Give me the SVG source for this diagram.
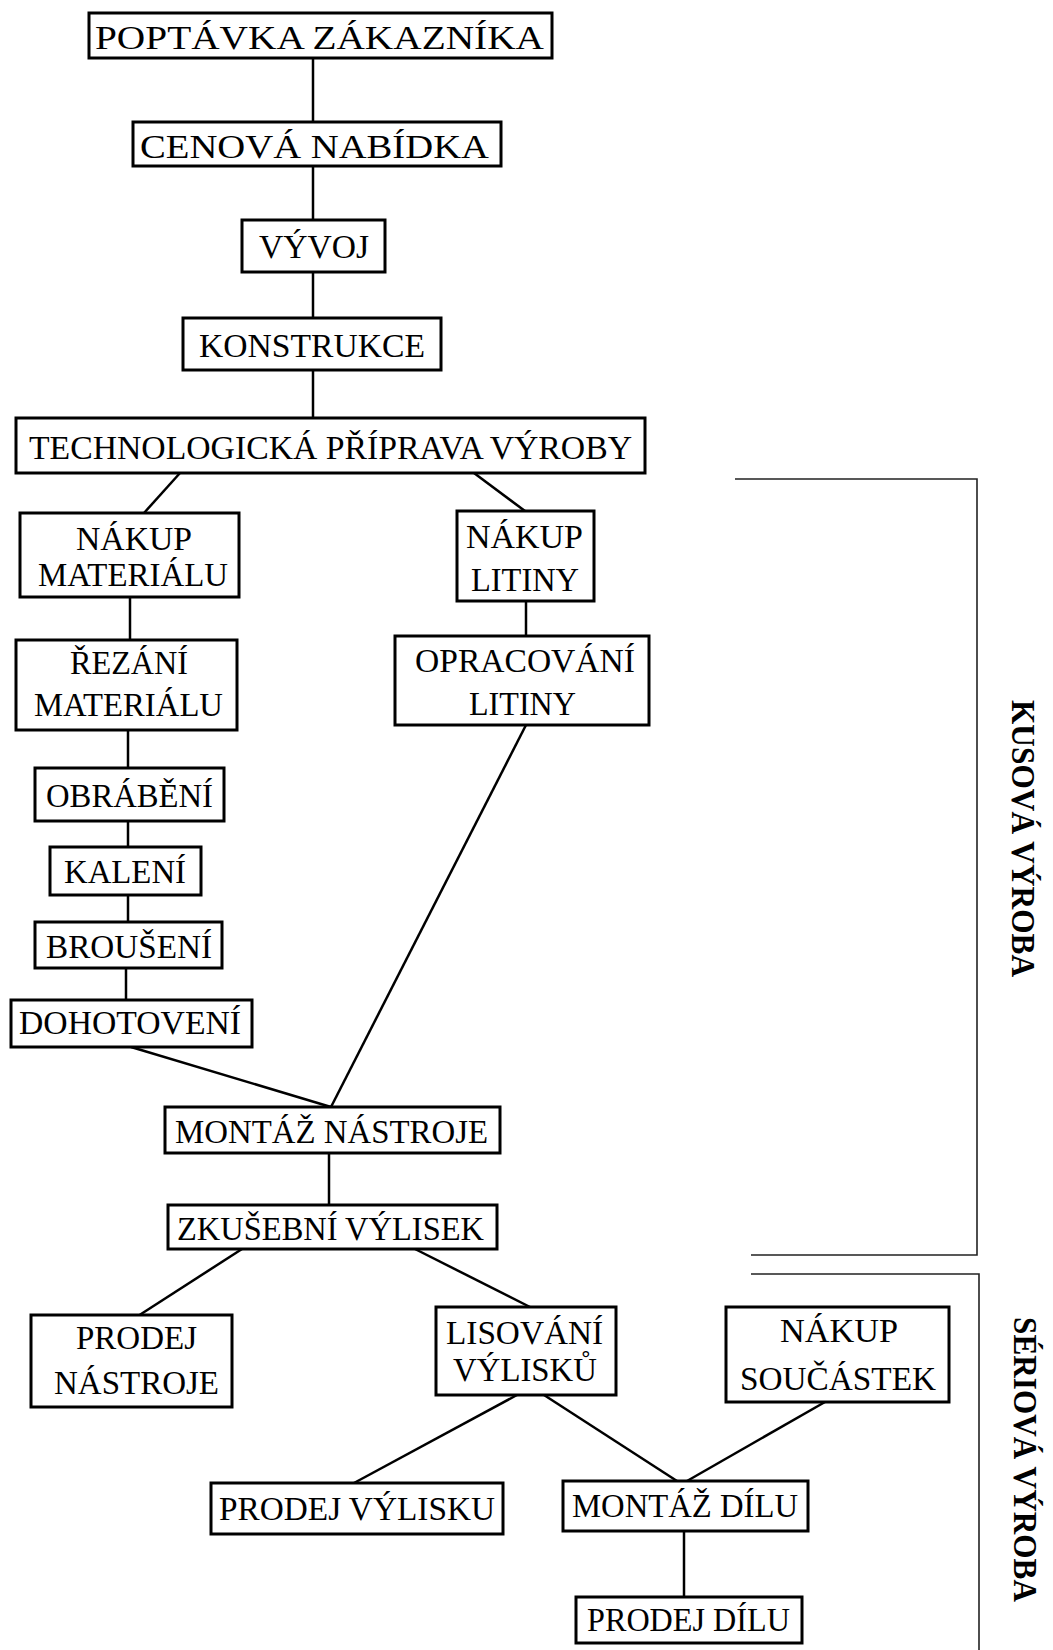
<svg xmlns="http://www.w3.org/2000/svg" width="1053" height="1650" viewBox="0 0 1053 1650">
<style>
  .node rect { fill: #fff; stroke: #000; stroke-width: 3; }
  text { font-family: "Liberation Serif", "Times New Roman", serif; font-size: 33px; fill: #000; }
  .side { font-weight: bold; font-size: 33px; }
  #connectors line { stroke: #000; stroke-width: 2.5; }
  .bracket { fill: none; stroke: #222; stroke-width: 1.6; }
</style>
<rect width="1053" height="1650" fill="#fff"/>

<g id="connectors">
  <line x1="313" y1="58" x2="313" y2="122"/>
  <line x1="313" y1="166" x2="313" y2="220"/>
  <line x1="313" y1="272" x2="313" y2="318"/>
  <line x1="313" y1="370" x2="313" y2="418"/>
  <line x1="180" y1="473" x2="144" y2="513"/>
  <line x1="474" y1="473" x2="525" y2="511"/>
  <line x1="130" y1="597" x2="130" y2="640"/>
  <line x1="526" y1="601" x2="526" y2="636"/>
  <line x1="128" y1="730" x2="128" y2="768"/>
  <line x1="128" y1="821" x2="128" y2="847"/>
  <line x1="128" y1="895" x2="128" y2="922"/>
  <line x1="126" y1="968" x2="126" y2="1000"/>
  <line x1="131" y1="1047" x2="331" y2="1107"/>
  <line x1="526" y1="725" x2="331" y2="1107"/>
  <line x1="329" y1="1153" x2="329" y2="1205"/>
  <line x1="242" y1="1249" x2="138" y2="1316"/>
  <line x1="415" y1="1249" x2="530" y2="1307"/>
  <line x1="517" y1="1395" x2="354" y2="1483"/>
  <line x1="544" y1="1395" x2="677" y2="1481"/>
  <line x1="825" y1="1402" x2="687" y2="1481"/>
  <line x1="684" y1="1531" x2="684" y2="1597"/>
</g>

<g id="n-poptavka" class="node"><rect x="89" y="13" width="463" height="45"/><text x="95" y="49" textLength="449" lengthAdjust="spacingAndGlyphs">POPTÁVKA ZÁKAZNÍKA</text></g>
<g id="n-cenova" class="node"><rect x="133" y="122" width="368" height="44"/><text x="140" y="158" textLength="349" lengthAdjust="spacingAndGlyphs">CENOVÁ NABÍDKA</text></g>
<g id="n-vyvoj" class="node"><rect x="242" y="220" width="143" height="52"/><text x="259" y="258" textLength="110" lengthAdjust="spacingAndGlyphs">VÝVOJ</text></g>
<g id="n-konstrukce" class="node"><rect x="183" y="318" width="258" height="52"/><text x="199" y="357" textLength="226" lengthAdjust="spacingAndGlyphs">KONSTRUKCE</text></g>
<g id="n-tpv" class="node"><rect x="16" y="418" width="629" height="55"/><text x="29" y="459" textLength="603" lengthAdjust="spacingAndGlyphs">TECHNOLOGICKÁ PŘÍPRAVA VÝROBY</text></g>
<g id="n-nakup-mat" class="node"><rect x="20" y="513" width="219" height="84"/><text x="76" y="550" textLength="116" lengthAdjust="spacingAndGlyphs">NÁKUP</text><text x="38" y="586" textLength="190" lengthAdjust="spacingAndGlyphs">MATERIÁLU</text></g>
<g id="n-nakup-lit" class="node"><rect x="457" y="511" width="137" height="90"/><text x="466" y="548" textLength="117" lengthAdjust="spacingAndGlyphs">NÁKUP</text><text x="471" y="591" textLength="108" lengthAdjust="spacingAndGlyphs">LITINY</text></g>
<g id="n-rezani" class="node"><rect x="16" y="640" width="221" height="90"/><text x="70" y="674" textLength="118" lengthAdjust="spacingAndGlyphs">ŘEZÁNÍ</text><text x="34" y="716" textLength="189" lengthAdjust="spacingAndGlyphs">MATERIÁLU</text></g>
<g id="n-opracovani" class="node"><rect x="395" y="636" width="254" height="89"/><text x="415" y="672" textLength="220" lengthAdjust="spacingAndGlyphs">OPRACOVÁNÍ</text><text x="469" y="715" textLength="107" lengthAdjust="spacingAndGlyphs">LITINY</text></g>
<g id="n-obrabeni" class="node"><rect x="35" y="768" width="189" height="53"/><text x="46" y="807" textLength="167" lengthAdjust="spacingAndGlyphs">OBRÁBĚNÍ</text></g>
<g id="n-kaleni" class="node"><rect x="50" y="847" width="151" height="48"/><text x="64" y="883" textLength="122" lengthAdjust="spacingAndGlyphs">KALENÍ</text></g>
<g id="n-brouseni" class="node"><rect x="35" y="922" width="187" height="46"/><text x="46" y="958" textLength="166" lengthAdjust="spacingAndGlyphs">BROUŠENÍ</text></g>
<g id="n-dohotoveni" class="node"><rect x="11" y="1000" width="241" height="47"/><text x="19" y="1034" textLength="222" lengthAdjust="spacingAndGlyphs">DOHOTOVENÍ</text></g>
<g id="n-montaz-nastroje" class="node"><rect x="165" y="1107" width="335" height="46"/><text x="175" y="1143" textLength="313" lengthAdjust="spacingAndGlyphs">MONTÁŽ NÁSTROJE</text></g>
<g id="n-zkusebni" class="node"><rect x="168" y="1205" width="329" height="44"/><text x="177" y="1240" textLength="307" lengthAdjust="spacingAndGlyphs">ZKUŠEBNÍ VÝLISEK</text></g>
<g id="n-prodej-nastroje" class="node"><rect x="31" y="1315" width="201" height="92"/><text x="76" y="1349" textLength="121" lengthAdjust="spacingAndGlyphs">PRODEJ</text><text x="54" y="1394" textLength="165" lengthAdjust="spacingAndGlyphs">NÁSTROJE</text></g>
<g id="n-lisovani" class="node"><rect x="436" y="1307" width="180" height="88"/><text x="446" y="1344" textLength="157" lengthAdjust="spacingAndGlyphs">LISOVÁNÍ</text><text x="453" y="1381" textLength="144" lengthAdjust="spacingAndGlyphs">VÝLISKŮ</text></g>
<g id="n-nakup-soucastek" class="node"><rect x="726" y="1307" width="223" height="95"/><text x="780" y="1342" textLength="118" lengthAdjust="spacingAndGlyphs">NÁKUP</text><text x="740" y="1390" textLength="196" lengthAdjust="spacingAndGlyphs">SOUČÁSTEK</text></g>
<g id="n-prodej-vylisku" class="node"><rect x="211" y="1483" width="292" height="51"/><text x="219" y="1520" textLength="276" lengthAdjust="spacingAndGlyphs">PRODEJ VÝLISKU</text></g>
<g id="n-montaz-dilu" class="node"><rect x="563" y="1481" width="245" height="50"/><text x="572" y="1517" textLength="226" lengthAdjust="spacingAndGlyphs">MONTÁŽ DÍLU</text></g>
<g id="n-prodej-dilu" class="node"><rect x="576" y="1597" width="226" height="46"/><text x="587" y="1631" textLength="203" lengthAdjust="spacingAndGlyphs">PRODEJ DÍLU</text></g>

<g id="phases">
  <path class="bracket" d="M735 479 H977 V1255 H751"/>
  <path class="bracket" d="M751 1274 H979 V1650"/>
  <text class="side" transform="translate(1012,700) rotate(90)" textLength="277" lengthAdjust="spacingAndGlyphs">KUSOVÁ VÝROBA</text>
  <text class="side" transform="translate(1014,1317) rotate(90)" textLength="285" lengthAdjust="spacingAndGlyphs">SÉRIOVÁ VÝROBA</text>
</g>
</svg>
